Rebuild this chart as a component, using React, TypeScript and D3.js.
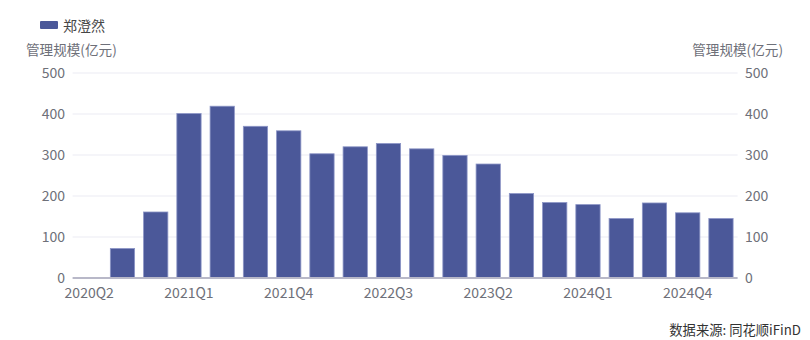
import React from "react";
import * as d3 from "d3";

const categories = [
  "2020Q2", "2020Q3", "2020Q4", "2021Q1", "2021Q2", "2021Q3", "2021Q4",
  "2022Q1", "2022Q2", "2022Q3", "2022Q4", "2023Q1", "2023Q2", "2023Q3",
  "2023Q4", "2024Q1", "2024Q2", "2024Q3", "2024Q4", "2025Q1",
];
const values: (number | null)[] = [
  null, 72, 161, 401, 419, 370, 359, 303, 320, 328, 315, 299, 278, 206,
  184, 179, 145, 183, 159, 145,
];
const xTickLabels = ["2020Q2", "2021Q1", "2021Q4", "2022Q3", "2023Q2", "2024Q1", "2024Q4"];
const yTicks = [0, 100, 200, 300, 400, 500];
const seriesName = "郑澄然";
const axisTitle = "管理规模(亿元)";
const sourceText = "数据来源: 同花顺iFinD";

const W = 810;
const H = 340;
const FONT = "'Noto Sans CJK SC', 'Noto Sans', sans-serif";

export default function App() {
  const x = d3.scaleBand<string>().domain(categories).range([72.6, 737.6]).paddingInner(0.27).paddingOuter(0.135);
  const xc = d3.scaleBand<string>().domain(categories).range([72.6, 737.6]);
  const y = d3.scaleLinear().domain([0, 500]).range([278, 73]);
  const barColor = "#4b5899";
  const tickColor = "#6e7079";

  return (
    <svg width={W} height={H} style={{ position: "absolute", left: 0, top: 0 }} fontFamily={FONT}>
      {/* legend */}
      <rect x={40} y={21} width={18} height={8} rx={1} fill={barColor} />
      <text x={63} y={30.5} fontSize={14} fill="#464646">{seriesName}</text>
      {/* axis titles */}
      <text x={26} y={55} fontSize={13.6} fill={tickColor}>{axisTitle}</text>
      <text x={783} y={55} fontSize={13.6} fill={tickColor} textAnchor="end">{axisTitle}</text>
      {/* grid */}
      {yTicks.filter((t) => t > 0).map((t) => (
        <line key={t} x1={72.6} x2={737.6} y1={y(t)} y2={y(t)} stroke="#ebebf3" strokeWidth={1} />
      ))}
      {/* y tick labels */}
      {yTicks.map((t) => (
        <g key={"yl" + t}>
          <text x={65} y={y(t)} dy="0.36em" fontSize={14} fill={tickColor} textAnchor="end">{t}</text>
          <text x={745} y={y(t)} dy="0.36em" fontSize={14} fill={tickColor}>{t}</text>
        </g>
      ))}
      {/* bars */}
      {categories.map((c, i) => {
        const v = values[i];
        if (v == null) return null;
        return (
          <rect
            key={c}
            x={x(c)}
            y={y(v)}
            width={x.bandwidth()}
            height={y(0) - y(v)}
            fill={barColor}
            stroke="#8c95c6"
            strokeWidth={0.8}
          />
        );
      })}
      {/* x axis */}
      <line x1={72.6} x2={737.6} y1={278} y2={278} stroke="#b8b8c8" strokeWidth={2} />
      {xTickLabels.map((l) => (
        <text key={l} x={(xc(l) ?? 0) + xc.bandwidth() / 2} y={298} fontSize={14} fill={tickColor} textAnchor="middle">{l}</text>
      ))}
      <text x={801} y={335} fontSize={13.3} fill="#333" textAnchor="end">{sourceText}</text>
    </svg>
  );
}
